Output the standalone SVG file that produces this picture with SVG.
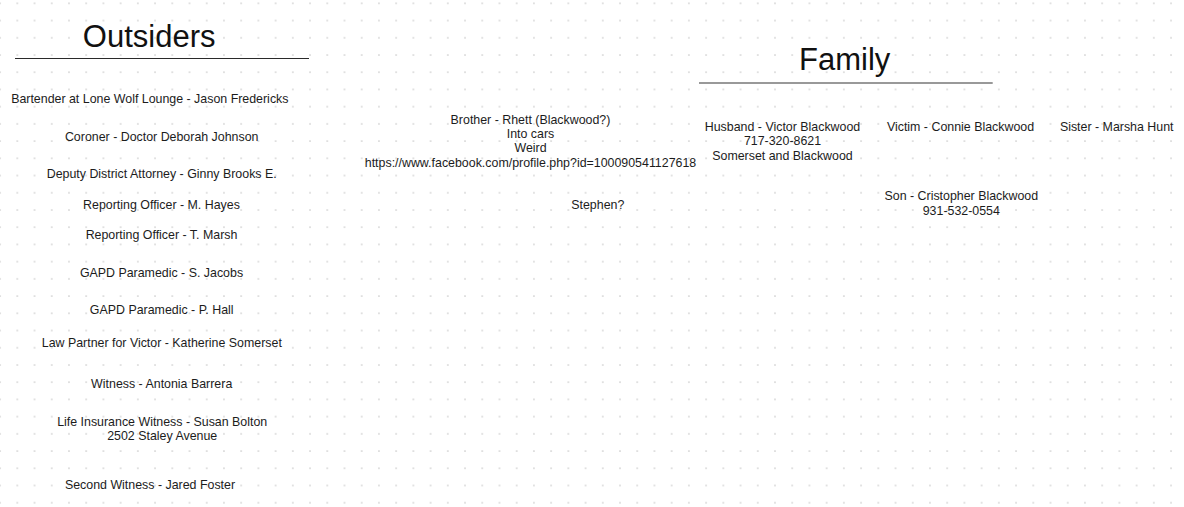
<svg xmlns="http://www.w3.org/2000/svg" width="1184" height="507" viewBox="0 0 1184 507">
<defs>
<pattern id="dots" patternUnits="userSpaceOnUse" x="-8.51" y="-5.31" width="17.22" height="17.22">
<circle cx="8.61" cy="8.61" r="0.8" fill="#c4c4c4"/>
</pattern>
<style>
text{font-family:"Liberation Sans",Arial,sans-serif;fill:#1c1c1c;text-anchor:middle}
.t{font-size:12.4px}
.h{font-size:31px;fill:#111}
</style>
</defs>
<rect width="1184" height="507" fill="#ffffff"/>
<rect width="1184" height="507" fill="url(#dots)"/>
<g id="title-outsiders">
<text class="h" x="149.2" y="46.5">Outsiders</text>
<line x1="15" y1="58.5" x2="309" y2="58.5" stroke="#2a2a2a" stroke-width="1.1"/>
</g>
<g id="title-family">
<text class="h" x="844.7" y="69.5">Family</text>
<line x1="699" y1="83" x2="992.7" y2="83" stroke="#777777" stroke-width="1.3"/>
</g>
<g id="connectors"></g>
<g id="bartender"><text class="t" x="149.8" y="103.3">Bartender at Lone Wolf Lounge - Jason Fredericks</text></g>
<g id="coroner"><text class="t" x="161.7" y="141">Coroner - Doctor Deborah Johnson</text></g>
<g id="deputy-da"><text class="t" x="161.7" y="177.7">Deputy District Attorney - Ginny Brooks E.</text></g>
<g id="officer-hayes"><text class="t" x="161.5" y="209">Reporting Officer - M. Hayes</text></g>
<g id="officer-marsh"><text class="t" x="161.5" y="239">Reporting Officer - T. Marsh</text></g>
<g id="paramedic-jacobs"><text class="t" x="161.5" y="276.7">GAPD Paramedic - S. Jacobs</text></g>
<g id="paramedic-hall"><text class="t" x="161.7" y="314.3">GAPD Paramedic - P. Hall</text></g>
<g id="law-partner"><text class="t" x="161.8" y="347.3">Law Partner for Victor - Katherine Somerset</text></g>
<g id="witness-barrera"><text class="t" x="161.7" y="387.7">Witness - Antonia Barrera</text></g>
<g id="witness-bolton"><text class="t" x="162.2" y="425.7">Life Insurance Witness - Susan Bolton</text><text class="t" x="162.2" y="439.5">2502 Staley Avenue</text></g>
<g id="witness-foster"><text class="t" x="150" y="489.3">Second Witness - Jared Foster</text></g>
<g id="brother-rhett">
<text class="t" x="530.5" y="124">Brother - Rhett (Blackwood?)</text>
<text class="t" x="530.5" y="138">Into cars</text>
<text class="t" x="530.5" y="152.3">Weird</text>
<text class="t" x="530.5" y="166.6">https://www.facebook.com/profile.php?id=100090541127618</text>
</g>
<g id="stephen"><text class="t" x="597.8" y="209">Stephen?</text></g>
<g id="husband-victor">
<text class="t" x="782.5" y="131">Husband - Victor Blackwood</text>
<text class="t" x="782.5" y="145.3">717-320-8621</text>
<text class="t" x="782.5" y="160">Somerset and Blackwood</text>
</g>
<g id="victim-connie"><text class="t" x="960.5" y="131">Victim - Connie Blackwood</text></g>
<g id="sister-marsha"><text class="t" x="1116.7" y="131">Sister - Marsha Hunt</text></g>
<g id="son-cristopher">
<text class="t" x="961.3" y="200">Son - Cristopher Blackwood</text>
<text class="t" x="961.3" y="214.8">931-532-0554</text>
</g>
</svg>
